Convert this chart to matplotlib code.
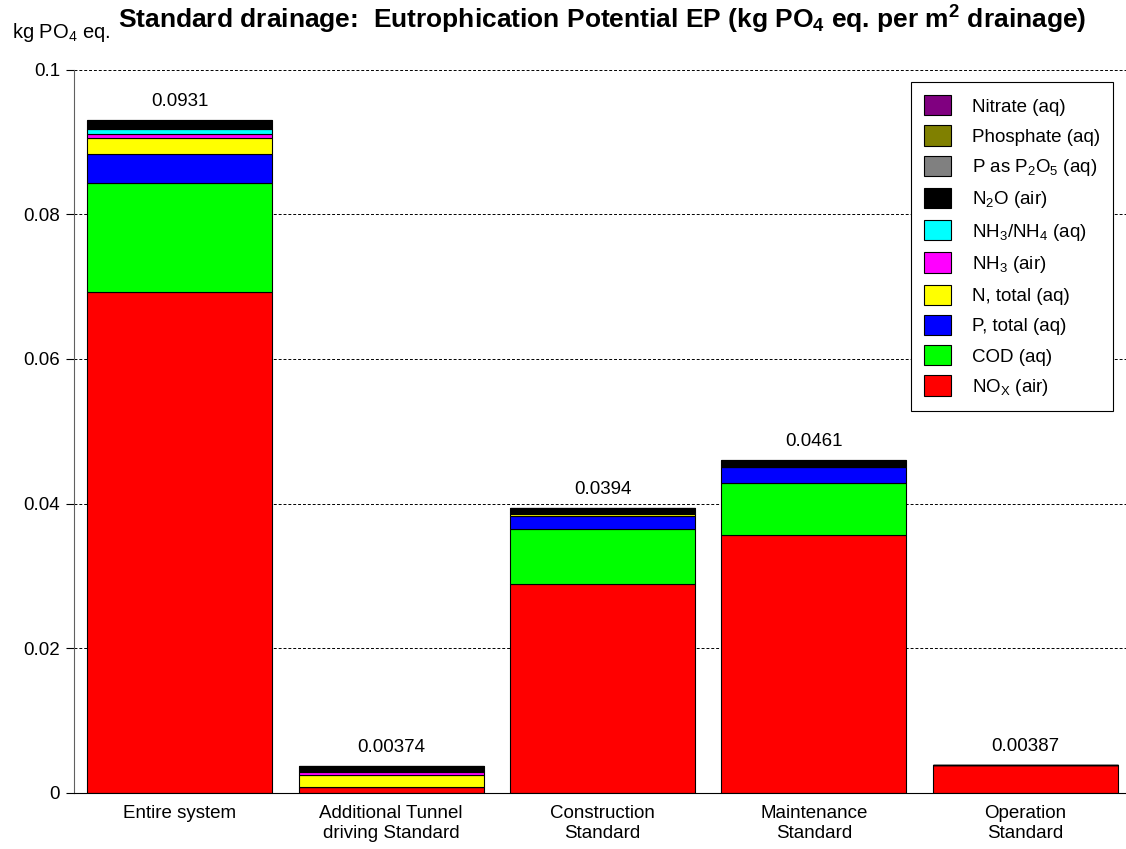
import numpy as np
import matplotlib
matplotlib.use('Agg')
import matplotlib.pyplot as plt

plt.rcParams['font.family'] = ['Liberation Sans', 'DejaVu Sans']
plt.rcParams['mathtext.default'] = 'regular'

# Data
categories = ['Entire system', 'Additional Tunnel\ndriving Standard',
              'Construction\nStandard', 'Maintenance\nStandard', 'Operation\nStandard']
totals = [0.0931, 0.00374, 0.0394, 0.0461, 0.00387]

# components, bottom to top
nox       = [0.0692, 0.0008, 0.0289, 0.0356, 0.00383]
cod       = [0.0151, 0.0000, 0.0076, 0.0072, 0.0]
p_total   = [0.0040, 0.0000, 0.0018, 0.0022, 0.0]
n_total   = [0.0022, 0.0017, 0.0003, 0.0001, 0.0]
nh3_air   = [0.0006, 0.0004, 0.0001, 0.0001, 0.0]
nh3_nh4   = [0.0007, 0.0002, 0.0002, 0.0002, 0.0]
n2o       = [0.0010, 0.0005, 0.0004, 0.0003, 0.00004]
p2o5      = [0.0001, 0.0001, 0.0001, 0.0002, 0.0]
phosphate = [0.0001, 0.00004, 0.0, 0.0001, 0.0]
nitrate   = [0.0001, 0.0, 0.0, 0.0001, 0.0]

series = [nox, cod, p_total, n_total, nh3_air, nh3_nh4, n2o, p2o5, phosphate, nitrate]
labels = ['NO$_X$ (air)', 'COD (aq)', 'P, total (aq)', 'N, total (aq)', 'NH$_3$ (air)',
          'NH$_3$/NH$_4$ (aq)', 'N$_2$O (air)', 'P as P$_2$O$_5$ (aq)',
          'Phosphate (aq)', 'Nitrate (aq)']
colors = ['#ff0000', '#00ff00', '#0000ff', '#ffff00', '#ff00ff',
          '#00ffff', '#000000', '#808080', '#808000', '#800080']

fig = plt.figure(figsize=(11.26, 8.49), dpi=100)
ax = fig.add_axes([0.0657, 0.066, 0.9387, 0.852])

x = np.arange(len(categories))
bottom = np.zeros(len(categories))
handles = []
for vals, lab, col in zip(series, labels, colors):
    h = ax.bar(x, vals, 0.875, bottom=bottom, color=col, edgecolor='black',
               linewidth=0.8, label=lab)
    handles.append(h)
    bottom += np.array(vals)

# totals above bars
for xi, t in zip(x, totals):
    ax.annotate(f'{t:g}', (xi, t), xytext=(0, 7), textcoords='offset points',
                ha='center', va='bottom', fontsize=13.5)

ax.set_xlim(-0.5, 4.5)
ax.set_ylim(0, 0.1)
ax.set_yticks([0, 0.02, 0.04, 0.06, 0.08, 0.1])
ax.set_yticklabels(['0', '0.02', '0.04', '0.06', '0.08', '0.1'])
ax.set_xticks(x)
ax.set_xticklabels(categories, fontsize=13.5)
ax.tick_params(axis='x', length=0, pad=9)
ax.tick_params(axis='y', labelsize=13.5, length=6, direction='out', pad=4)
ax.yaxis.grid(True, linestyle=(0, (3, 2)), color='black', linewidth=0.7)
ax.set_axisbelow(True)
for s in ['top', 'right']:
    ax.spines[s].set_visible(False)
ax.spines['left'].set_color('#606060')
ax.spines['bottom'].set_color('black')

leg = ax.legend(handles[::-1], labels[::-1], loc='upper right',
                bbox_to_anchor=(0.983, 0.983), borderaxespad=0, fontsize=13.5,
                frameon=True, fancybox=False, edgecolor='black', framealpha=1,
                handlelength=1.45, handleheight=1.3, labelspacing=0.52,
                borderpad=0.7, handletextpad=1.1)
leg.get_frame().set_linewidth(0.8)

fig.text(0.1048, 1 - 29 / 849, 'Standard drainage:  Eutrophication Potential EP (kg PO$_4$ eq. per m$^2$ drainage)',
         fontsize=19, fontweight='bold', ha='left', va='baseline')
fig.text(0.0107, 1 - 38 / 849, 'kg PO$_4$ eq.', fontsize=14.5, ha='left', va='baseline')

fig.savefig('out.png', dpi=100)
